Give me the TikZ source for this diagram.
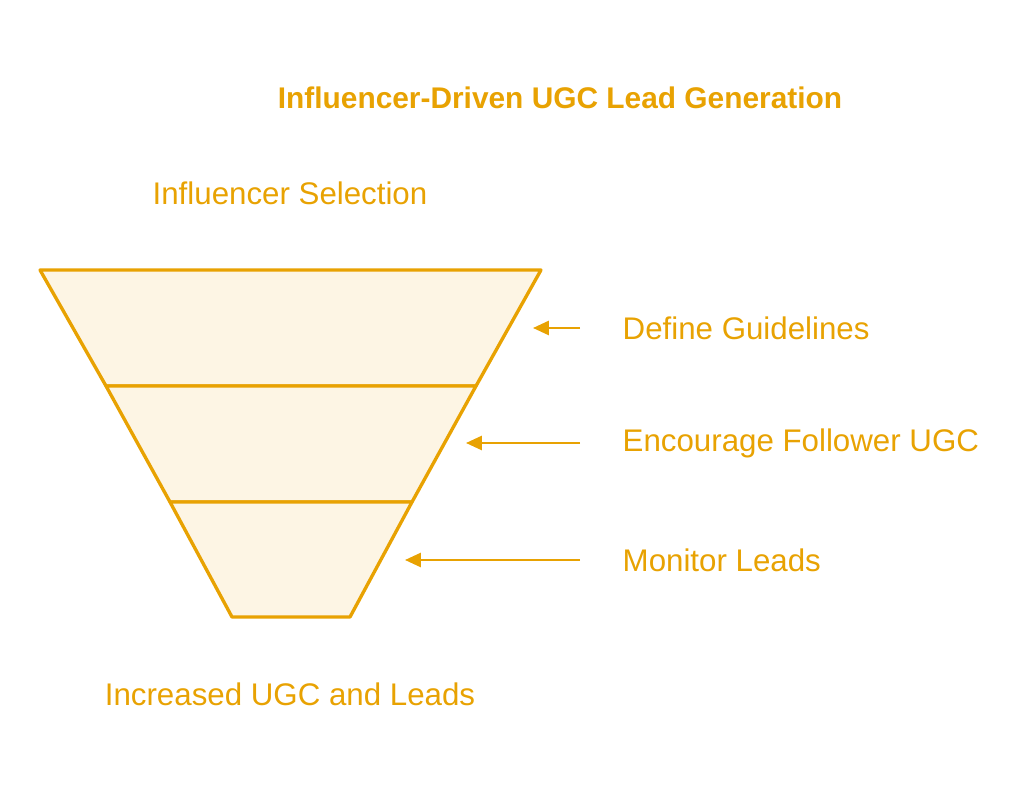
\documentclass[tikz,border=0pt]{standalone}
\usepackage{fontspec}
\setmainfont{Liberation Sans}
\usetikzlibrary{positioning,arrows.meta}
\definecolor{funnelorange}{HTML}{E8A202}
\definecolor{funnelfill}{HTML}{FDF5E4}
\begin{document}
\begin{tikzpicture}[x=0.02cm,y=-0.02cm,
                    thick,layer/.style={draw=funnelorange,fill=funnelfill,line width=1.9pt,line join=round},
                    label node/.style={text=funnelorange,font=\fontsize{17.8}{21}\selectfont,inner sep=0pt},
                    pointer/.style={draw=funnelorange,line width=1.3pt,-{Triangle[length=9pt,width=8pt]}}
                   ]
  \useasboundingbox (0,0) rectangle (1024,793);

  % funnel layers
  \path[layer] (40,270) -- (541,270) -- (476,386) -- (106,386) -- cycle;
  \path[layer] (106,386) -- (476,386) -- (412,502) -- (170,502) -- cycle;
  \path[layer] (170,502) -- (412,502) -- (350,617) -- (232,617) -- cycle;

  % texts
  \node[label node,font=\fontsize{17}{20}\selectfont\bfseries] (title) at (560,98) {Influencer-Driven UGC Lead Generation};
  \node[label node] (top) at (290,193) {Influencer Selection};
  \node[label node] (bottom) at (290,694) {Increased UGC and Leads};
  \node[label node,anchor=west] (guide) at (622,328) {Define Guidelines};
  \node[label node,anchor=west] (follow) at (622,443) {Encourage Follower UGC};
  \node[label node,anchor=west] (monitor) at (622,560) {Monitor Leads};

  % arrow ends at the funnel
  \coordinate (g) at (533,328);
  \coordinate (f) at (466,443);
  \coordinate (m) at (405,560);

  \draw[pointer] ([xshift=-42*0.02cm]guide.west) -- (g);
  \draw[pointer] ([xshift=-42*0.02cm]follow.west) -- (f);
  \draw[pointer] ([xshift=-42*0.02cm]monitor.west) -- (m);
\end{tikzpicture}
\end{document}
